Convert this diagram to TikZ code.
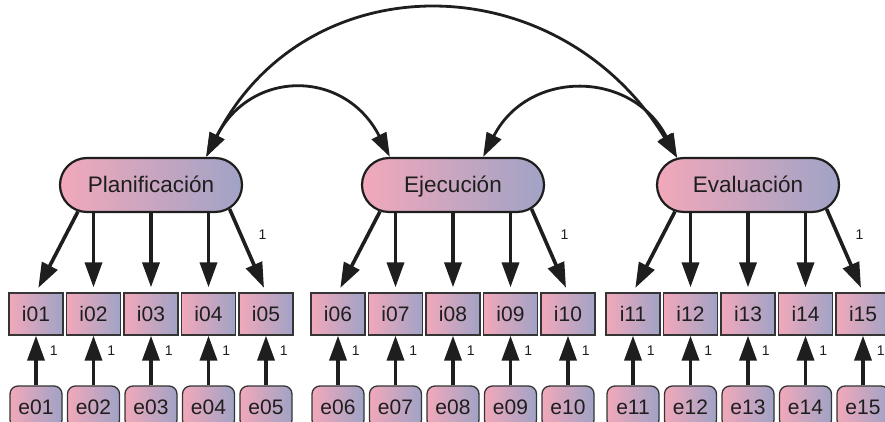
\documentclass[tikz,border=0pt]{standalone}
\usepackage{fontspec}
\setmainfont{Liberation Sans}
\usetikzlibrary{arrows.meta,shapes.misc}
\definecolor{rosa}{RGB}{242,168,186}
\definecolor{lila}{RGB}{160,163,198}
\definecolor{tinta}{RGB}{30,30,30}
\tikzset{
  lat/.style={rounded rectangle,draw=tinta,line width=2.2pt,left color=rosa,right color=lila,
    minimum width=182pt,minimum height=54pt,inner sep=0pt,text=tinta,
    font=\fontsize{22.5}{22.5}\selectfont,text height=16pt,text depth=0pt},
  obs/.style={rectangle,draw=tinta!90,line width=1.3pt,left color=rosa,right color=lila,
    minimum width=54pt,minimum height=42pt,inner sep=0pt,text=tinta,
    font=\fontsize{21}{21}\selectfont,text height=15pt,text depth=0pt},
  err/.style={obs,rounded corners=8pt,minimum width=52pt},
  flecha/.style={line width=3.6pt,tinta,-{Triangle[length=25pt,width=17pt]}},
  cov/.style={line width=2.8pt,tinta,{Triangle[length=24pt,width=16pt]}-{Triangle[length=24pt,width=16pt]}},
  uno/.style={font=\fontsize{14}{14}\selectfont,inner sep=1pt,text=tinta}
}
\begin{document}
\begin{tikzpicture}[x=1pt,y=1pt]
\useasboundingbox(0,0)rectangle(885,422);
\clip(0,0)rectangle(885,422);
% factores
\node[lat](pl)at(151,237){Planificación};
\node[lat](ej)at(453,237){Ejecución};
\node[lat](ev)at(748,237){Evaluación};
% items y errores
\foreach \n/\x in {01/36,02/93.5,03/151,04/208.5,05/266,06/338,07/395.5,08/453,09/510.5,10/568,11/633,12/690.5,13/748,14/805.5,15/863}{
  \node[obs](i\n)at(\x,108){i\n};
  \node[err](e\n)at(\x,15){e\n};
  \draw[flecha](e\n)--(i\n)node[uno,pos=0.7,right=11pt]{1};
}
% cargas
\foreach \f/\a/\b/\c/\d/\e in {pl/01/02/03/04/05,ej/06/07/08/09/10,ev/11/12/13/14/15}{
  \draw[flecha,shorten >=5pt](\f.200)--(i\a.north);
  \draw[flecha,shorten >=5pt](\f.south-|i\b)--(i\b.north);
  \draw[flecha,shorten >=5pt](\f.south-|i\c)--(i\c.north);
  \draw[flecha,shorten >=5pt](\f.south-|i\d)--(i\d.north);
  \draw[flecha,shorten >=5pt](\f.343)--(i\e.north)node[uno,pos=0.31,right=15pt]{1};
}
% covarianzas
\draw[cov](pl.27)..controls +(100,195) and +(-120,195)..(ev.159);
\draw[cov](pl.27)..controls +(45,88) and +(-45,88)..(ej.156);
\draw[cov](ej.43)..controls +(45,88) and +(-45,88)..(ev.159);
\end{tikzpicture}
\end{document}
